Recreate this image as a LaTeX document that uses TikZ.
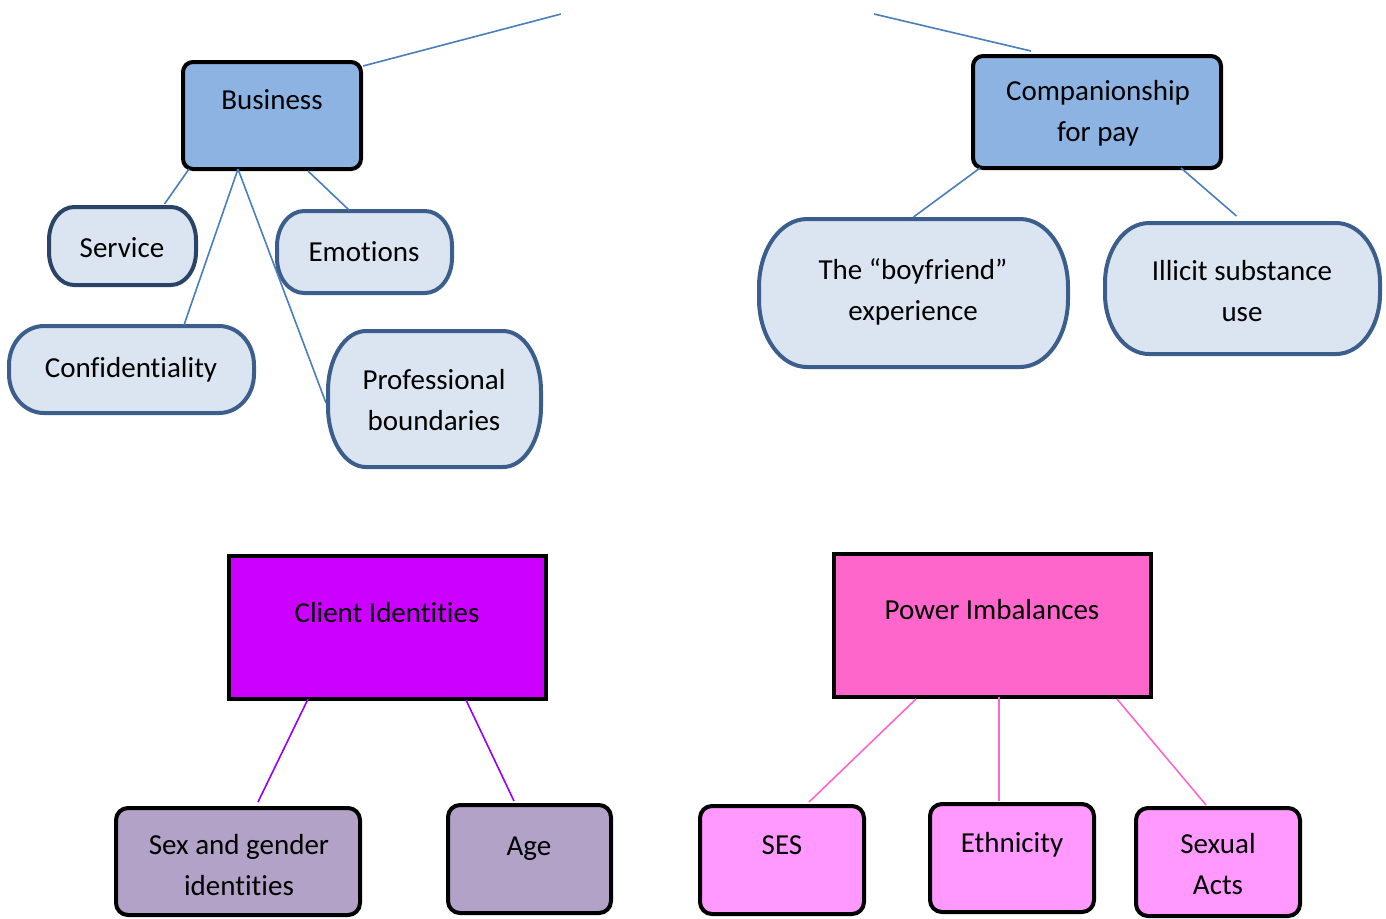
\documentclass[tikz,border=0pt]{standalone}
\usepackage{fontspec}
\setmainfont{Carlito}[Ligatures=NoCommon]
\usetikzlibrary{calc}
\definecolor{pillfill}{HTML}{DBE5F1}
\definecolor{pillborder}{HTML}{3B5E8C}
\definecolor{pilldark}{HTML}{2A4468}
\definecolor{hubblue}{HTML}{8DB3E2}
\definecolor{connblue}{HTML}{4A7EBB}
\definecolor{clientfill}{HTML}{CC00FF}
\definecolor{connpurple}{HTML}{9400FF}
\definecolor{lilac}{HTML}{B2A2C7}
\definecolor{powerfill}{HTML}{FF66CC}
\definecolor{connpink}{HTML}{FF66CC}
\definecolor{lightpink}{HTML}{FF99FF}
\newcommand{\twol}[2]{\begin{tabular}[t]{@{}c@{}}#1\\#2\end{tabular}}
\newcommand{\nolig}{\kern0pt\relax}
% pill outline with elliptical corners: node name, x radius, y radius, border colour
\newcommand{\pillshape}[4]{%
  \draw[pillline, draw=#4]
    ($(#1.north west)+(#2,0pt)$) -- ($(#1.north east)+(-#2,0pt)$)
    arc[start angle=90, end angle=0, x radius=#2, y radius=#3]
    -- ($(#1.south east)+(0pt,#3)$)
    arc[start angle=0, end angle=-90, x radius=#2, y radius=#3]
    -- ($(#1.south west)+(#2,0pt)$)
    arc[start angle=-90, end angle=-180, x radius=#2, y radius=#3]
    -- ($(#1.north west)+(0pt,-#3)$)
    arc[start angle=180, end angle=90, x radius=#2, y radius=#3]
    -- cycle;}
\begin{document}
\begin{tikzpicture}[x=0.5pt,y=-0.5pt,
  font=\fontsize{14.5}{20.5}\selectfont,
  pillbox/.style={inner sep=0pt, outer sep=0pt},
  pillline/.style={fill=pillfill, line width=2pt},
  hub/.style={draw=black, fill=hubblue, line width=2pt, rounded corners=5pt, inner sep=0pt, outer sep=0pt},
  topbox/.style={draw=black, line width=2pt, inner sep=0pt, outer sep=0pt},
  leafbox/.style={draw=black, line width=2pt, rounded corners=6pt, inner sep=0pt, outer sep=0pt},
  txt/.style={anchor=base, inner sep=0pt},
  bline/.style={draw=connblue, line width=0.8pt},
  pline/.style={draw=connpurple, line width=0.8pt},
  kline/.style={draw=connpink, line width=0.8pt}]
\useasboundingbox (0,0) rectangle (1386,918);

% ---------- Business cluster ----------
\node[hub, minimum width=89pt, minimum height=53.5pt] (biz) at (272,115.5) {};
\node[txt] (bizt) at (272,109) {Business};

\node[pillbox, minimum width=73.5pt, minimum height=39pt] (serv) at (122.5,246) {};
\pillshape{serv}{12.5pt}{16.5pt}{pilldark}
\node[txt] (servt) at (122,257) {Service};

\node[pillbox, minimum width=87.5pt, minimum height=41pt] (emo) at (364.5,252) {};
\pillshape{emo}{13.5pt}{17.5pt}{pillborder}
\node[txt] (emot) at (364,261) {Emotions};

\node[pillbox, minimum width=122.5pt, minimum height=43.5pt] (conf) at (131.5,369.5) {};
\pillshape{conf}{17.5pt}{19.5pt}{pillborder}
\node[txt] (conft) at (131,377) {Conf\nolig ident\nolig iality};

\node[pillbox, minimum width=106.5pt, minimum height=68pt] (prof) at (434.5,399) {};
\pillshape{prof}{19pt}{30pt}{pillborder}
\node[txt] (proft) at (434,389) {\twol{Professional}{boundaries}};

\coordinate (topL) at (561,14);
\draw[bline] ($(biz.north east)+(2,4)$) -- (topL);
\draw[bline] ($(biz.south west)+(6,0)$) -- ($(serv.north)+(42,-3)$);
\draw[bline] ($(biz.south)+(-34,0)$) -- ($(conf.north)+(52.5,-1)$);
\draw[bline] ($(biz.south)+(-34,0)$) -- ($(prof.west)+(-2,4)$);
\draw[bline] ($(biz.south)+(36,2)$) -- ($(emo.north)+(-15.5,-1)$);

% ---------- Companionship cluster ----------
\node[hub, minimum width=124pt, minimum height=56pt] (comp) at (1097,112) {};
\node[txt] (compt) at (1098,100) {\twol{Companionship}{for pay}};

\node[pillbox, minimum width=154.5pt, minimum height=74pt] (bf) at (913.5,293) {};
\pillshape{bf}{24pt}{34pt}{pillborder}
\node[txt] (bft) at (913,279) {\twol{The “boyf\nolig riend”}{experience}};

\node[pillbox, minimum width=137.5pt, minimum height=65.5pt] (il) at (1242.5,288.5) {};
\pillshape{il}{22pt}{30pt}{pillborder}
\node[txt] (ilt) at (1242,280) {\twol{Illicit substance}{use}};

\coordinate (topR) at (874,14);
\draw[bline] ($(comp.north)+(-66,-5)$) -- (topR);
\draw[bline] ($(comp.south)+(-117,0)$) -- ($(bf.north)+(0,-2)$);
\draw[bline] ($(comp.south)+(84,0)$) -- ($(il.north)+(-6,-7)$);

% ---------- Client Identities cluster ----------
\node[topbox, fill=clientfill, minimum width=158.5pt, minimum height=71.5pt] (cli) at (387.5,627.5) {};
\node[txt] (clit) at (387,622) {Client Ident\nolig it\nolig ies};

\node[leafbox, fill=lilac, minimum width=122pt, minimum height=53.5pt] (sg) at (238,861.5) {};
\node[txt] (sgt) at (239,854) {\twol{Sex and gender}{ident\nolig it\nolig ies}};

\node[leafbox, fill=lilac, minimum width=81.5pt, minimum height=54pt] (age) at (529.5,859) {};
\node[txt] (aget) at (529,855) {Age};

\draw[pline] ($(cli.south)+(-79.5,0)$) -- ($(sg.north)+(20,-6)$);
\draw[pline] ($(cli.south)+(78.5,1)$) -- ($(age.north)+(-15.5,-4)$);

% ---------- Power Imbalances cluster ----------
\node[topbox, fill=powerfill, minimum width=158.5pt, minimum height=71.5pt] (pow) at (992.5,625.5) {};
\node[txt] (powt) at (992,619) {Power Imbalances};

\node[leafbox, fill=lightpink, minimum width=82pt, minimum height=54pt] (ses) at (782,860) {};
\node[txt] (sest) at (782,854) {SES};

\node[leafbox, fill=lightpink, minimum width=82pt, minimum height=54pt] (eth) at (1012,858) {};
\node[txt] (etht) at (1012,852) {Ethnicity};

\node[leafbox, fill=lightpink, minimum width=82pt, minimum height=54pt] (sx) at (1218,862) {};
\node[txt] (sxt) at (1218,853) {\twol{Sexual}{Acts}};

\draw[kline] ($(pow.south)+(-76.5,2)$) -- ($(ses.north)+(27,-4)$);
\draw[kline] ($(pow.south)+(6.5,0)$) -- ($(eth.north)+(-13,-3)$);
\draw[kline] ($(pow.south)+(124.5,2)$) -- ($(sx.north)+(-12,-3)$);
\end{tikzpicture}
\end{document}
